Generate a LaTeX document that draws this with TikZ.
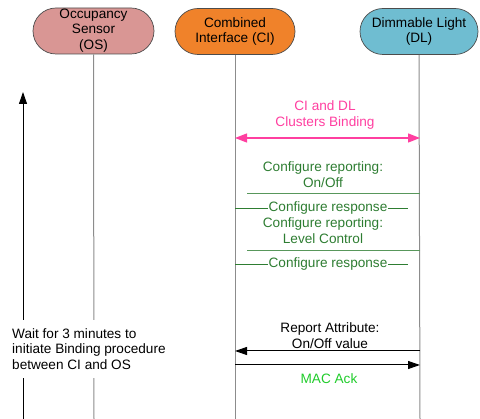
\documentclass[tikz,border=0pt]{standalone}
\usepackage{fontspec}
\setmainfont{Liberation Sans}
\usetikzlibrary{arrows.meta}
\definecolor{osfill}{HTML}{D99694}
\definecolor{cifill}{HTML}{F0822A}
\definecolor{dlfill}{HTML}{6FBDD1}
\definecolor{pinkc}{HTML}{FF3FA0}
\definecolor{dgreen}{HTML}{2E7D32}
\definecolor{lgreen}{HTML}{1FCC2A}
\definecolor{lifec}{HTML}{8C8C8C}
\begin{document}
\begin{tikzpicture}[x=1pt,y=-1pt,
  every node/.style={font=\fontsize{13.6}{15.8}\selectfont, align=center, inner sep=0pt},
  pill/.style={draw=black!70, line width=0.7pt, rounded corners=23pt, minimum height=46pt},
  life/.style={draw=lifec, line width=1pt},
  msg/.style={line width=1pt, -{Triangle[length=12pt,width=8pt]}},
  greenline/.style={draw=dgreen!80, line width=0.9pt},
  greentxt/.style={text=dgreen}]
\useasboundingbox (0,0) rectangle (480,419);
% participants
\node[pill, fill=osfill, minimum width=121pt] (os) at (93.5,31) {};
\node at (93.5,30.5) {Occupancy\\Sensor\\(OS)};
\node[pill, fill=cifill, minimum width=120pt] (ci) at (235,31.5) {Combined\\Interface (CI)};
\node[pill, fill=dlfill, minimum width=118pt] (dl) at (419,31.5) {Dimmable Light\\(DL)};
% lifeline ends
\coordinate (osend) at (94,419);
\coordinate (ciend) at (235,419);
\coordinate (dlend) at (420,419);
\draw[life] (os.south) -- (osend);
\draw[life] (ci.south) -- (ciend);
\draw[life] (dl.south) -- (dlend);
% time arrow
\coordinate (tbot) at (23,419);
\coordinate (ttop) at (23,92);
\draw[line width=1pt, -{Triangle[length=12pt,width=8pt]}] (tbot) -- (ttop);
\node[fill=white, inner xsep=4pt, inner ysep=8pt, align=left, anchor=west] (wait) at (8,349)
  {Wait for 3 minutes to\\initiate Binding procedure\\between CI and OS};
% binding
\coordinate (cib) at (235,138);
\coordinate (dlb) at (420,138);
\draw[pinkc, line width=1.3pt, {Triangle[length=12pt,width=9pt]}-{Triangle[length=12pt,width=9pt]}] (cib) -- (dlb);
\node[text=pinkc] (bindlbl) at (325,115) {CI and DL\\Clusters Binding};
% configure reporting on/off
\coordinate (c1a) at (247,193);
\coordinate (c1b) at (420,193);
\draw[greenline] (c1b) -- (c1a);
\node[greentxt] (cr1) at (323,174.5) {Configure reporting:\\On/Off};
\coordinate (r1a) at (235,208);
\coordinate (r1b) at (408,208);
\draw[greenline, draw=dgreen] (r1a) -- (r1b);
\node[greentxt, fill=white, inner xsep=1pt, inner ysep=1pt] (rs1) at (328,208) {Configure response};
% configure reporting level control
\coordinate (c2a) at (247,250);
\coordinate (c2b) at (420,250);
\draw[greenline] (c2b) -- (c2a);
\node[greentxt] (cr2) at (323,230.5) {Configure reporting:\\Level Control};
\coordinate (r2a) at (235,264);
\coordinate (r2b) at (408,264);
\draw[greenline, draw=dgreen] (r2a) -- (r2b);
\node[greentxt, fill=white, inner xsep=1pt, inner ysep=1pt] (rs2) at (328,264) {Configure response};
% report attribute
\coordinate (ra1) at (420,351);
\coordinate (ra2) at (235,351);
\draw[msg] (ra1) -- (ra2);
\node (ralbl) at (330,336) {Report Attribute:\\On/Off value};
% MAC ack
\coordinate (ma1) at (235,365);
\coordinate (ma2) at (420,365);
\draw[msg] (ma1) -- (ma2);
\node[text=lgreen] (maclbl) at (329,379) {MAC Ack};
\end{tikzpicture}
\end{document}
